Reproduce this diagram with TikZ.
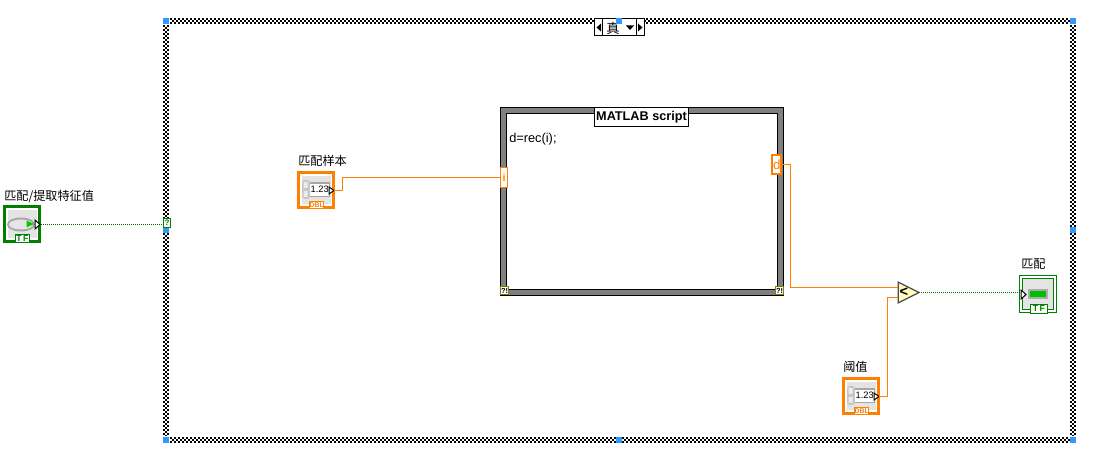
\documentclass[tikz,border=0pt]{standalone}
\usepackage{fontspec}
\usetikzlibrary{shapes.geometric}
\setmainfont{Liberation Sans}
\newfontfamily\cjk{Noto Sans CJK SC}
\definecolor{dorange}{HTML}{FF8000}
\definecolor{dgreen}{HTML}{007F00}
\definecolor{hblue}{HTML}{3399FF}
\definecolor{gframe}{HTML}{808080}
\definecolor{olive2}{HTML}{808000}
\definecolor{panel}{HTML}{E4E4E4}
\tikzset{
  x=0.75pt,y=-0.75pt,
  lbl/.style={anchor=west,inner sep=0pt,font=\cjk\fontsize{9.1pt}{11pt}\selectfont,text=black},
  handle/.style={fill=hblue,draw=none,minimum width=4.5pt,minimum height=4.5pt,inner sep=0pt,outer sep=0pt,anchor=north west},
  numwire/.style={draw=dorange,line width=1pt},
  boolwire/.style={draw=dgreen!80!black,line width=0.9pt,dash pattern=on 0.75pt off 0.75pt},
  tip/.style={draw=black,fill=white,line width=0.75pt},
  chk/.style={draw=black,line width=1.5pt,dash pattern=on 1.5pt off 1.5pt},
  typebox/.style={fill=white,line width=0.75pt,inner sep=0pt},
  termbox/.style={anchor=north west,inner sep=0pt,fill=white},
  errterm/.style={termbox,draw=olive2,line width=1.1pt,fill=white,minimum width=5.8pt,minimum height=5.8pt,font=\fontsize{5.5pt}{5.5pt}\selectfont\bfseries},
  numctl/.pic={
    \fill[white] (0,0) rectangle (38,38);
    \draw[dorange,line width=2pt] (1.5,1.5) rectangle (36.5,36.5);
    \fill[panel] (5,5) rectangle (33.5,33.5);
    \fill[gray!70] (12,11) rectangle (33,26);
    \fill[gray!45,rounded corners=2pt] (5,9) rectangle (13,28);
    \fill[gray!15] (6.5,11) rectangle (10.5,17) (6.5,20) rectangle (10.5,26);
    \node[fill=white,inner sep=0pt,minimum width=14.2pt,minimum height=9pt,anchor=north west,font=\fontsize{7pt}{8pt}\selectfont] at (13,12.5) {1.23\hspace{1pt}};
    \draw[tip] (32,16) -- (37,19.5) -- (32,23) -- cycle;
    \node[typebox,draw=dorange,minimum width=10.5pt,minimum height=4.6pt,text=dorange,font=\fontsize{5.2pt}{5.2pt}\selectfont\bfseries,anchor=north west] at (12,30.5) {DBL};
    \coordinate (-out) at (37,19.5);
  },
  tfbox/.style={typebox,draw=dgreen,text=dgreen,font=\fontsize{6.5pt}{6.5pt}\selectfont\bfseries,anchor=north west},
  boolctl/.pic={
    \fill[white] (0,0) rectangle (38,38);
    \draw[dgreen,line width=2pt] (1.5,1.5) rectangle (36.5,36.5);
    \fill[panel] (5,5) rectangle (33.5,33.5);
    \fill[gray!70] (18,19.5) ellipse [x radius=14,y radius=7];
    \fill[gray!20] (18,19.5) ellipse [x radius=12,y radius=5];
    \fill[green!80!black] (23.5,15.5) -- (31,19) -- (23.5,22.5) -- cycle;
    \draw[tip] (32,15) -- (37,19.5) -- (32,24) -- cycle;
    \node[tfbox,minimum width=10.5pt,minimum height=5.6pt] at (12,29.5) {T\,F};
    \coordinate (-out) at (37,19.5);
  },
  boolind/.pic={
    \draw[dgreen,line width=0.75pt] (0.5,0.5) rectangle (37.5,37.5);
    \draw[dgreen,line width=0.75pt,fill=panel] (3.5,3.5) rectangle (34.5,34.5);
    \fill[gray!65] (9,14) rectangle (29,24);
    \fill[green!75!black] (11,16) rectangle (27,22);
    \draw[tip] (2,15) -- (7,19.5) -- (2,24) -- cycle;
    \node[tfbox,minimum width=12.5pt,minimum height=6.4pt] at (11,29.2) {T\,F};
    \coordinate (-in) at (2,17.5);
  }
}
\begin{document}
\begin{tikzpicture}
\useasboundingbox (0,0) rectangle (1118,466);
\fill[white] (0,0) rectangle (1118,466);

% case structure frame
\foreach \o/\ph in {1/0,3/1.5,5/0}{
  \draw[chk,dash phase=\ph pt] (170,18+\o) -- (1070,18+\o);
  \draw[chk,dash phase=\ph pt] (170,437+\o) -- (1070,437+\o);
  \draw[chk,dash phase=\ph pt] (163+\o,25) -- (163+\o,436);
  \draw[chk,dash phase=\ph pt] (1070+\o,25) -- (1070+\o,436);
}
\foreach \n/\hx/\hy in {h1/163/18,h3/1070/18,h4/163/227,h5/1070/227,h6/163/437,h7/616/437,h8/1070/437}
  \node[handle] (\n) at (\hx,\hy) {};

% case selector
\node[draw=black,fill=white,line width=0.75pt,minimum width=37.5pt,minimum height=12.75pt,inner sep=0pt,anchor=north west] (sel) at (594,18) {};
\draw[black,line width=0.75pt] (602.5,18.5) -- (602.5,36) (636.5,18.5) -- (636.5,36);
\fill[black] (596.5,27.5) -- (601,23.5) -- (601,31.5) -- cycle;
\fill[black] (642.5,27.5) -- (638,23.5) -- (638,31.5) -- cycle;
\fill[black] (626,25.5) -- (634,25.5) -- (630,30) -- cycle;
\node[lbl,anchor=center,font=\cjk\fontsize{10pt}{11pt}\selectfont] (seltxt) at (613,28) {真};
\node[handle] (h2) at (616,18) {};

% MATLAB script node
\draw[gframe,line width=4.5pt] (503.5,110) rectangle (780.5,292.5);
\draw[black,line width=0.75pt] (500.5,107.5) rectangle (783.5,295.5);
\draw[black,line width=0.75pt] (506.5,113.5) rectangle (777.5,289.5);
\node[draw=black,fill=white,line width=0.75pt,minimum width=70.5pt,minimum height=14.25pt,inner sep=0pt,anchor=north west,font=\fontsize{9.5pt}{12pt}\selectfont\bfseries] (title) at (594,107) {MATLAB script};
\node[lbl,font=\fontsize{9.6pt}{11pt}\selectfont] (code) at (509,139) {d=rec(i);};

% terminals on the node
\node[termbox,draw=dorange,line width=0.75pt,minimum width=5.25pt,minimum height=15pt,text=dorange,font=\fontsize{8pt}{8pt}\selectfont\bfseries] (iterm) at (500,167) {i};
\node[termbox,draw=dorange,line width=1.5pt,minimum width=7.1pt,minimum height=13.9pt,text=dorange,font=\fontsize{10pt}{10pt}\selectfont] (dterm) at (771,154) {d};
\coordinate (dout) at (dterm.east |- 0,164.5);
\node[errterm] (err1) at (500,286) {?!};
\node[errterm] (err2) at (775,286) {?!};

% comparison function
\node[isosceles triangle,isosceles triangle apex angle=53,isosceles triangle stretches,draw=gray!60!black,fill=yellow!25!white,line width=0.9pt,minimum width=15.5pt,minimum height=15.5pt,inner sep=0pt,outer sep=0pt,anchor=apex] (cmp) at (919,292.5) {};
\coordinate (cmpa) at (898,287.5);
\coordinate (cmpb) at (898,297.5);
\coordinate (cmpo) at (919,292.5);
\node[inner sep=0pt,font=\fontsize{11pt}{11pt}\selectfont\bfseries] (cmptxt) at (904,292) {<};

% controls and indicator
\pic (smp) at (297,171) {numctl};
\pic (thr) at (842,377) {numctl};
\pic (sw) at (3,205) {boolctl};
\pic (ind) at (1019,275) {boolind};

% labels
\node[lbl] (l1) at (4,196) {匹配/提取特征值};
\node[lbl] (l2) at (298,161) {匹配样本};
\node[lbl] (l3) at (843,367) {阈值};
\node[lbl] (l4) at (1021,264) {匹配};

% selector tunnel
\node[termbox,draw=dgreen,line width=0.75pt,minimum width=5.25pt,minimum height=6.75pt,text=dgreen,font=\fontsize{6pt}{6pt}\selectfont\bfseries] (tun) at (163,218) {?};

% wires
\draw[boolwire,dash phase=0.75pt] (sw-out) -- (tun.west |- sw-out);
\draw[numwire] (smp-out) -- ++(8.5,0) |- (iterm.west);
\draw[numwire] (dout) -- ++(8,0) |- (cmpa);
\draw[numwire] (thr-out) -- ++(8.5,0) |- (cmpb);
\draw[boolwire] (cmpo) -- (ind-in);
\end{tikzpicture}
\end{document}
